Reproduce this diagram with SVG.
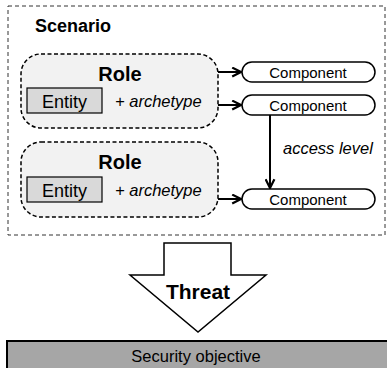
<svg xmlns="http://www.w3.org/2000/svg" width="387" height="368" viewBox="0 0 387 368">
  <defs>
    <marker id="arrow" viewBox="0 0 10 10" refX="9" refY="5" markerWidth="11" markerHeight="11" markerUnits="userSpaceOnUse" orient="auto">
      <path d="M1,1 L9,5 L1,9" fill="none" stroke="#000" stroke-width="2"/>
    </marker>
  </defs>
  <style>
    text { font-family: "Liberation Sans", Arial, sans-serif; fill: #000; }
    .title { font-size: 18px; font-weight: bold; }
    .role { font-size: 20px; font-weight: bold; text-anchor: middle; }
    .role-box { fill: #f2f2f2; stroke: #000; stroke-width: 1.5; stroke-dasharray: 4 2.5; }
    .entity-box { fill: #d9d9d9; stroke: #000; stroke-width: 1.2; }
    .entity { font-size: 18px; text-anchor: middle; }
    .arch { font-size: 16.5px; font-style: italic; }
    .comp-box { fill: #fff; stroke: #000; stroke-width: 1.5; }
    .comp { font-size: 15px; text-anchor: middle; }
    .link { fill: none; stroke: #000; stroke-width: 2; marker-end: url(#arrow); }
  </style>

  <!-- scenario frame -->
  <g id="scenario">
    <rect x="8" y="6" width="377" height="229" fill="#fff" stroke="#333" stroke-width="1" stroke-dasharray="4 3"/>
    <text class="title" x="35" y="32">Scenario</text>
  </g>

  <g id="role1">
    <rect class="role-box" x="21" y="54" width="197" height="74" rx="20"/>
    <text class="role" x="120" y="81">Role</text>
    <rect class="entity-box" x="27" y="88" width="75" height="25"/>
    <text class="entity" x="64.5" y="107.5">Entity</text>
    <text class="arch" x="115" y="107">+ archetype</text>
  </g>

  <g id="role2">
    <rect class="role-box" x="21" y="142" width="197" height="75" rx="20"/>
    <text class="role" x="120" y="169">Role</text>
    <rect class="entity-box" x="27" y="177" width="75" height="25"/>
    <text class="entity" x="64.5" y="196.5">Entity</text>
    <text class="arch" x="115" y="196">+ archetype</text>
  </g>

  <g id="component1">
    <rect class="comp-box" x="242" y="62" width="133" height="20" rx="10"/>
    <text class="comp" x="308" y="77.5">Component</text>
  </g>
  <g id="component2">
    <rect class="comp-box" x="242" y="95" width="133" height="20" rx="10"/>
    <text class="comp" x="308" y="110.5">Component</text>
  </g>
  <g id="component3">
    <rect class="comp-box" x="242" y="189" width="133" height="20" rx="10"/>
    <text class="comp" x="308" y="204.5">Component</text>
  </g>

  <!-- connectors -->
  <g id="connectors">
    <line class="link" x1="218" y1="72" x2="241" y2="72"/>
    <line class="link" x1="218" y1="105" x2="241" y2="105"/>
    <line class="link" x1="218" y1="199" x2="241" y2="199"/>
    <line class="link" x1="270" y1="115" x2="270" y2="188"/>
    <text x="283" y="154" font-size="16.5" font-style="italic">access level</text>
  </g>

  <g id="threat">
    <polygon points="164,243 231,243 231,275 266,275 198,332 130,275 164,275" fill="#fff" stroke="#000" stroke-width="1.5"/>
    <text x="198" y="299" font-size="21" font-weight="bold" text-anchor="middle">Threat</text>
  </g>

  <g id="security-objective">
    <rect x="7" y="341" width="392" height="40" fill="#a6a6a6" stroke="#000" stroke-width="2"/>
    <text x="196" y="362" font-size="16.5" text-anchor="middle">Security objective</text>
  </g>
</svg>
